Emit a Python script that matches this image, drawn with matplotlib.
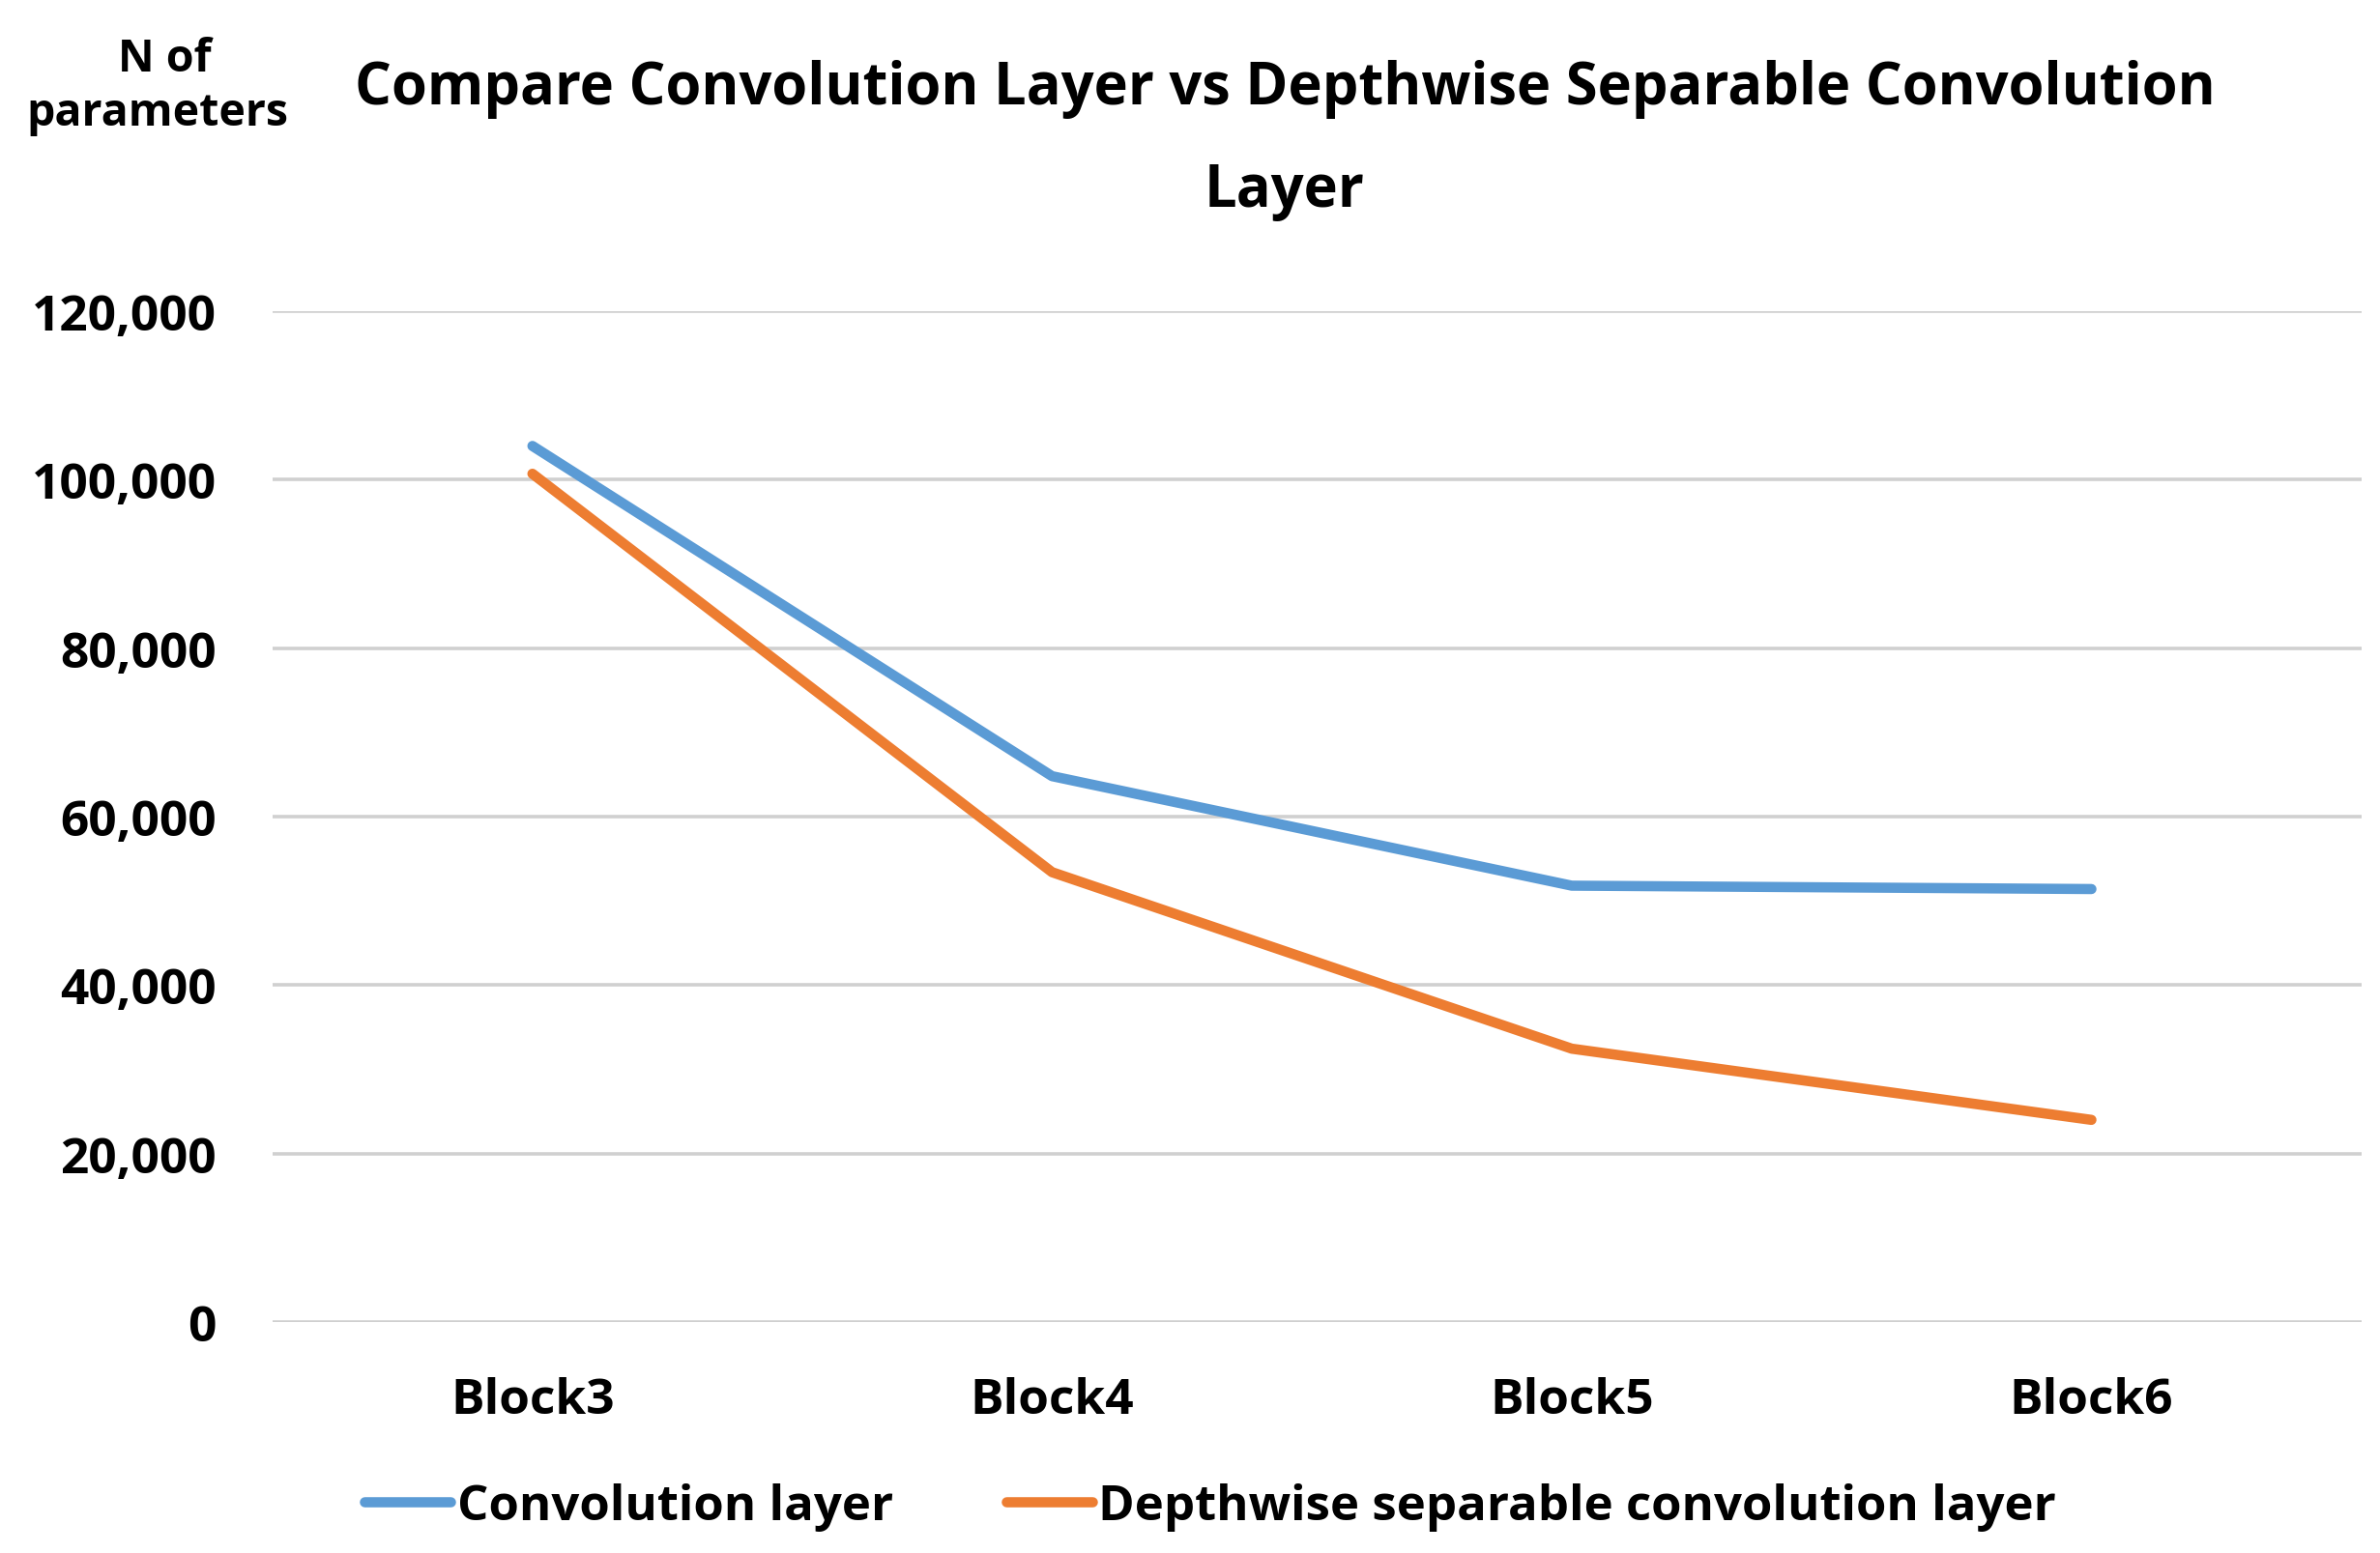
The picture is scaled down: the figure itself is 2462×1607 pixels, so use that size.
import matplotlib
matplotlib.use("Agg")
import matplotlib.pyplot as plt
from matplotlib.ticker import FuncFormatter, MultipleLocator

categories = ["Block3", "Block4", "Block5", "Block6"]
conv_layer = [104000, 64800, 51800, 51400]
dw_sep_layer = [100700, 53400, 32450, 24000]
series_names = ["Convolution layer", "Depthwise separable convolution layer"]
title_line1 = "Compare Convolution Layer vs Depthwise Separable Convolution"
title_line2 = "Layer"
ylabel_lines = ["N of", "parameters"]

W, H = 2462, 1608
DPI = 100
plt.rcParams['font.family'] = ['Open Sans', 'DejaVu Sans']
plt.rcParams['font.weight'] = 'bold'

fig = plt.figure(figsize=(W / DPI, H / DPI), dpi=DPI)
ax = fig.add_axes([282 / W, 1 - 1369 / H, (2443 - 282) / W, (1369 - 323) / H])

x = list(range(len(categories)))
BLUE = "#5B9BD5"
ORANGE = "#ED7D31"
ax.plot(x, conv_layer, color=BLUE, lw=7.6, solid_capstyle='round',
        solid_joinstyle='round', label=series_names[0], zorder=3)
ax.plot(x, dw_sep_layer, color=ORANGE, lw=7.6, solid_capstyle='round',
        solid_joinstyle='round', label=series_names[1], zorder=3)

ax.set_xlim(-0.5, len(categories) - 0.48)
ax.set_ylim(0, 120000)
ax.yaxis.set_major_locator(MultipleLocator(20000))
ax.yaxis.set_major_formatter(FuncFormatter(lambda v, p: f"{int(v):,}"))
ax.set_xticks(x)
ax.set_xticklabels(categories)
ax.grid(axis='y', color='#D0D0D0', lw=2.6, zorder=1)
ax.set_axisbelow(True)
for s in ax.spines.values():
    s.set_visible(False)
ax.tick_params(axis='both', length=0, labelsize=37, colors='black')
ax.tick_params(axis='y', pad=42)
ax.tick_params(axis='x', pad=40)
for lab in ax.get_xticklabels() + ax.get_yticklabels():
    lab.set_fontweight('bold')

fig.text(1329 / W, 1 - 108 / H, title_line1, ha='center', va='baseline',
         fontsize=42.9, fontweight='bold')
fig.text(1329 / W, 1 - 214 / H, title_line2, ha='center', va='baseline',
         fontsize=42.9, fontweight='bold')
fig.text(170 / W, 1 - 74 / H, ylabel_lines[0], ha='center', va='baseline',
         fontsize=33.5, fontweight='bold')
fig.text(163 / W, 1 - 130 / H, ylabel_lines[1], ha='center', va='baseline',
         fontsize=33.5, fontweight='bold')

leg = fig.legend(loc='center', bbox_to_anchor=(1252 / W, 1 - 1560 / H), ncol=2,
                 frameon=False, fontsize=36.6, handlelength=1.75, handletextpad=0.13,
                 columnspacing=2.3, borderpad=0, borderaxespad=0)
for t in leg.get_texts():
    t.set_fontweight('bold')

fig.savefig("out.png", dpi=DPI)
